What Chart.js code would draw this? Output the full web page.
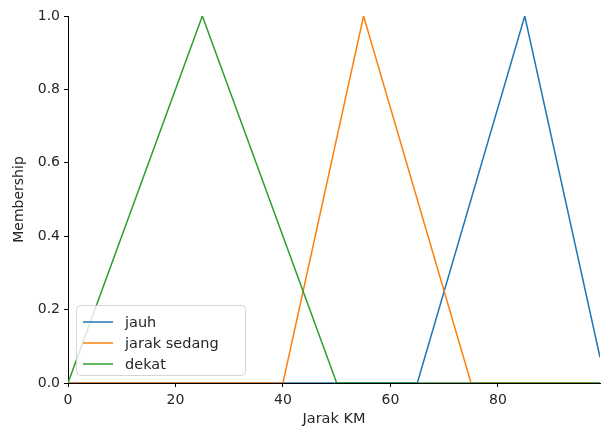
<!DOCTYPE html>
<html>
<head>
<meta charset="utf-8">
<script src="https://cdn.jsdelivr.net/npm/chart.js@4/dist/chart.umd.min.js"></script>
<style>
  html, body { margin: 0; padding: 0; background: #fff; }
  #box { width: 602px; height: 428px; }
</style>
</head>
<body>
<div id="box"><canvas id="myChart" width="602" height="428"></canvas></div>
<script>
// membership functions, corner points
const jauhX = [0, 65, 85, 99];
const jauhY = [0, 0, 1, 0.07];
const sedangX = [0, 40, 55, 75, 99];
const sedangY = [0, 0, 1, 0, 0];
const dekatX = [0, 25, 50, 99];
const dekatY = [0, 1, 0, 0];

const seriesLabels = ['jauh', 'jarak sedang', 'dekat'];
const seriesColors = ['#1f77b4', '#ff7f0e', '#2ca02c'];
const xTicks = [0, 20, 40, 60, 80];
const yTicks = [0, 0.2, 0.4, 0.6, 0.8, 1.0];

const toPoints = (xs, ys) => xs.map((x, i) => ({x: x, y: ys[i]}));

Chart.defaults.font.family = '"DejaVu Sans", sans-serif';
Chart.defaults.font.size = 14;
Chart.defaults.color = '#262626';

// legend inside the axes, lower left, like matplotlib
const innerLegend = {
  id: 'innerLegend',
  afterDatasetsDraw(chart) {
    const ctx = chart.ctx;
    const area = chart.chartArea;
    const w = 169, h = 70;
    const x = area.left + 8, y = area.bottom - 8 - h;
    ctx.save();
    ctx.beginPath();
    ctx.roundRect(x + 0.5, y + 0.5, w, h, 4);
    ctx.fillStyle = 'rgba(255,255,255,0.8)';
    ctx.fill();
    ctx.strokeStyle = 'rgba(204,204,204,0.8)';
    ctx.lineWidth = 1;
    ctx.stroke();
    ctx.font = '14.5px "DejaVu Sans", sans-serif';
    ctx.textBaseline = 'middle';
    chart.data.datasets.forEach((ds, i) => {
      const ry = y + 17 + i * 21;
      ctx.beginPath();
      ctx.moveTo(x + 7, ry);
      ctx.lineTo(x + 37, ry);
      ctx.strokeStyle = ds.borderColor;
      ctx.lineWidth = 1.5;
      ctx.stroke();
      ctx.fillStyle = '#262626';
      ctx.fillText(ds.label, x + 49, ry + 1);
    });
    ctx.restore();
  }
};

const datasets = [
  {label: seriesLabels[0], data: toPoints(jauhX, jauhY), order: 3},
  {label: seriesLabels[1], data: toPoints(sedangX, sedangY), order: 2},
  {label: seriesLabels[2], data: toPoints(dekatX, dekatY), order: 1}
].map((d, i) => Object.assign(d, {
  borderColor: seriesColors[i],
  backgroundColor: seriesColors[i],
  borderWidth: 1.5,
  pointRadius: 0,
  tension: 0,
  fill: false
}));

const myChart = new Chart(document.getElementById('myChart'), {
  type: 'line',
  data: {datasets: datasets},
  plugins: [innerLegend],
  options: {
    responsive: false,
    animation: false,
    devicePixelRatio: 1,
    layout: {padding: {top: 16, right: 2, left: 0, bottom: 0}},
    plugins: {legend: {display: false}, tooltip: {enabled: false}},
    scales: {
      x: {
        type: 'linear',
        min: 0,
        max: 99,
        afterBuildTicks: (s) => { s.ticks = xTicks.map(v => ({value: v})); },
        afterFit: (s) => { s.height = 45; },
        ticks: {padding: 5, callback: (v) => v},
        grid: {drawOnChartArea: false, drawTicks: true, tickLength: 4, color: '#000'},
        border: {display: true, color: '#000', width: 1},
        title: {display: true, text: 'Jarak KM', font: {size: 14.5}, padding: {top: 0, bottom: 0}}
      },
      y: {
        type: 'linear',
        min: 0,
        max: 1,
        afterBuildTicks: (s) => { s.ticks = yTicks.map(v => ({value: v})); },
        afterFit: (s) => { s.width = 68; },
        ticks: {padding: 4, callback: (v) => v.toFixed(1)},
        grid: {drawOnChartArea: false, drawTicks: true, tickLength: 4, color: '#000'},
        border: {display: true, color: '#000', width: 1},
        title: {display: true, text: 'Membership', font: {size: 14}, padding: {top: 11, bottom: 0}}
      }
    }
  }
});
</script>
</body>
</html>
